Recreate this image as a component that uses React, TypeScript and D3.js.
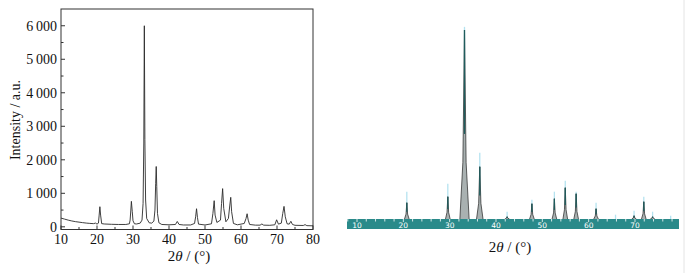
import React from "react";
import * as d3 from "d3";

// left panel: measured XRD pattern, [2θ, intensity]
const leftPattern: [number, number][] = [
  [10, 260], [11, 230], [12, 200], [13, 175], [14, 155], [15, 140], [16, 125], [17, 112], [18, 102], [19, 95],
  [19.6, 110], [20, 80], [20.4, 110], [20.6, 350], [20.8, 600], [21.0, 350], [21.3, 95], [22, 85], [24, 75],
  [26, 70], [28, 70], [29, 90], [29.2, 200], [29.4, 500], [29.55, 760], [29.8, 450], [30.0, 180], [30.4, 90],
  [31, 85], [32, 110], [32.5, 200], [32.8, 700], [33.0, 2500], [33.15, 6000], [33.3, 2600], [33.5, 800],
  [33.8, 250], [34.5, 120], [35.2, 110], [35.8, 170], [36.1, 500], [36.3, 1300], [36.45, 1800], [36.6, 1200],
  [36.8, 400], [37.2, 120], [38, 70], [40, 60], [41.8, 70], [42.3, 160], [42.8, 70], [44, 55], [46, 55],
  [47.1, 100], [47.4, 300], [47.65, 540], [47.9, 280], [48.2, 80], [50, 55], [51.8, 90], [52.2, 400],
  [52.55, 780], [52.8, 350], [53.3, 130], [54.3, 200], [54.6, 700], [54.9, 1140], [55.2, 550], [55.8, 150],
  [56.5, 250], [56.9, 650], [57.15, 880], [57.4, 450], [57.9, 100], [59, 60], [60.9, 100], [61.4, 250],
  [61.7, 390], [62.0, 200], [62.4, 70], [64, 50], [65.3, 50], [65.8, 85], [66.3, 50], [68, 45], [69.4, 60],
  [69.9, 210], [70.4, 80], [71.2, 110], [71.6, 400], [71.95, 610], [72.3, 300], [72.8, 90], [73.4, 80],
  [73.85, 165], [74.3, 70], [75, 45], [77.3, 40], [77.8, 65], [78.3, 35], [80, 30],
];

// right panel: peak positions, observed heights, reference stick heights
const rightPos = [20.75, 29.6, 33.2, 36.5, 42.4, 47.75, 52.6, 54.95, 57.3, 61.6, 65.8, 69.8, 71.9, 73.8, 77.7];
const rightObs = [517, 708, 6000, 1660, 73, 486, 644, 994, 803, 327, 0, 105, 549, 73, 0];
const rightRef = [867, 1120, 6100, 2105, 232, 613, 867, 1216, 867, 517, 137, 263, 708, 232, 105];

const yTicksL = [0, 1000, 2000, 3000, 4000, 5000, 6000];
const xTicksL = [10, 20, 30, 40, 50, 60, 70, 80];
const xTicksR = [10, 20, 30, 40, 50, 60, 70];

const fmt = (d: number) => (d >= 1000 ? `${Math.floor(d / 1000)}\u2009${String(d % 1000).padStart(3, "0")}` : `${d}`);

export default function App() {
  const xL = d3.scaleLinear().domain([10, 80]).range([61, 313]);
  const yL = d3.scaleLinear().domain([-80, 6500]).range([229.5, 9]);
  const xR = d3.scaleLinear().domain([7.84, 79.5]).range([347, 679]);
  const yR = d3.scaleLinear().domain([0, 6000]).range([219, 30]);

  const lineL = d3
    .line<[number, number]>()
    .x((d) => xL(d[0]))
    .y((d) => yL(d[1]));

  const peakPath = (p: number, h: number) => {
    const w = h > 3000 ? 1.0 : h > 1200 ? 0.7 : 0.5;
    const pts: [number, number][] = [
      [p - w, 0],
      [p - w * 0.35, h * 0.3],
      [p, h],
      [p + w * 0.35, h * 0.3],
      [p + w, 0],
    ];
    return d3
      .line<[number, number]>()
      .x((d) => xR(d[0]))
      .y((d) => yR(d[1]))(pts);
  };

  const serif = "Liberation Serif, serif";
  const minorY = d3.range(500, 6500, 1000);
  const minorX = d3.range(15, 80, 10);
  const minorR = d3.range(8, 80, 2).filter((v) => v % 10 !== 0);

  return (
    <svg width={692} height={273} style={{ position: "absolute", left: 0, top: 0, background: "#fff" }}>
      {/* left panel */}
      <g fontFamily={serif} fill="#111">
        <rect x={61} y={9} width={252} height={220.5} fill="none" stroke="#333" strokeWidth={1} />
        {yTicksL.map((t) => (
          <g key={"y" + t}>
            <line x1={61} x2={65} y1={yL(t)} y2={yL(t)} stroke="#333" />
            <text x={57} y={yL(t)} dy="0.35em" textAnchor="end" fontSize={14}>
              {fmt(t)}
            </text>
          </g>
        ))}
        {minorY.map((t) => (
          <line key={"my" + t} x1={61} x2={63.5} y1={yL(t)} y2={yL(t)} stroke="#333" />
        ))}
        {xTicksL.map((t) => (
          <g key={"x" + t}>
            <line x1={xL(t)} x2={xL(t)} y1={229.5} y2={225.5} stroke="#333" />
            <text x={xL(t)} y={244} textAnchor="middle" fontSize={14}>
              {t}
            </text>
          </g>
        ))}
        {minorX.map((t) => (
          <line key={"mx" + t} x1={xL(t)} x2={xL(t)} y1={229.5} y2={227} stroke="#333" />
        ))}
        <path d={lineL(leftPattern) || ""} fill="none" stroke="#2a2a2a" strokeWidth={0.9} />
        <text x={189} y={261} textAnchor="middle" fontSize={15}>
          2<tspan fontStyle="italic">θ</tspan> / (°)
        </text>
        <text transform="translate(20,120) rotate(-90)" textAnchor="middle" fontSize={14}>
          Intensity / a.u.
        </text>
      </g>

      {/* right panel */}
      <g>
        <line x1={684} x2={684} y1={0} y2={273} stroke="#e4e4e4" />
        {rightPos.map((p, i) => (
          <line key={"r" + i} x1={xR(p)} x2={xR(p)} y1={yR(0)} y2={yR(rightRef[i])} stroke="#b5e3f0" strokeWidth={1.3} />
        ))}
        {rightPos.map((p, i) =>
          rightObs[i] > 0 ? (
            <path key={"p" + i} d={peakPath(p, rightObs[i]) || ""} fill="#a9b1b1" stroke="#222" strokeWidth={0.7} />
          ) : null
        )}
        {rightPos.map((p, i) =>
          rightObs[i] > 0 ? (
            <line key={"s" + i} x1={xR(p)} x2={xR(p)} y1={yR(rightObs[i] * 0.45)} y2={yR(rightObs[i])} stroke="#1f5c5c" strokeWidth={1.3} />
          ) : null
        )}
        <rect x={347} y={219} width={332} height={10} fill="#2a8a8a" />
        {minorR.map((t) => (
          <line key={"mr" + t} x1={xR(t)} x2={xR(t)} y1={219} y2={221.5} stroke="#fff" strokeWidth={0.8} />
        ))}
        {xTicksR.map((t) => (
          <g key={"xr" + t}>
            <line x1={xR(t)} x2={xR(t)} y1={219} y2={222} stroke="#fff" strokeWidth={0.8} />
            <text x={xR(t)} y={227.5} textAnchor="middle" fontSize={7.5} fill="#fff" fontFamily="DejaVu Sans, sans-serif">
              {t}
            </text>
          </g>
        ))}
        <text x={510} y={252} textAnchor="middle" fontSize={15} fontFamily={serif} fill="#111">
          2<tspan fontStyle="italic">θ</tspan> / (°)
        </text>
      </g>
    </svg>
  );
}
